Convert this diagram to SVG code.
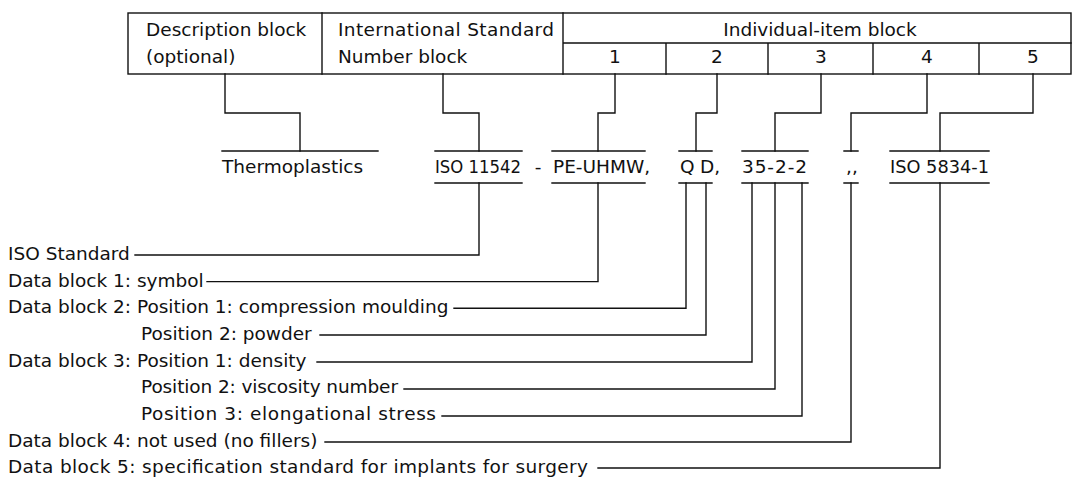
<svg xmlns="http://www.w3.org/2000/svg" width="1073" height="477" viewBox="0 0 1073 477">
<style>
.ln{fill:none;stroke:#111;stroke-width:1.4;stroke-linecap:square}
text{font-family:"DejaVu Sans","Liberation Sans",sans-serif;font-size:18.5px;fill:#111}
.m{text-anchor:middle}
</style>
<rect width="1073" height="477" fill="#fff"/>
<g id="table">
<rect class="ln" x="128" y="13" width="943" height="61"/>
<path class="ln" d="M322 13V74M563 13V74M563 43H1071M666 43V74M768 43V74M873 43V74M979 43V74"/>
<text x="146" y="36">Description block</text>
<text x="146" y="63">(optional)</text>
<text x="338" y="36" textLength="216" lengthAdjust="spacing">International Standard</text>
<text x="338" y="63">Number block</text>
<text class="m" x="820" y="36">Individual-item block</text>
<text class="m" x="615" y="63">1</text>
<text class="m" x="717" y="63">2</text>
<text class="m" x="821" y="63">3</text>
<text class="m" x="927" y="63">4</text>
<text class="m" x="1033" y="63">5</text>
</g>
<g id="designation">
<path class="ln" d="M222 151H378M435 151H522M435 183H522M552 151H645M552 183H645M679 151H712M679 183H712M742 151H808M742 183H808M844 151H858M844 183H858M890 151H989M890 183H989"/>
<text x="222" y="173">Thermoplastics</text>
<text x="435" y="173" textLength="86" lengthAdjust="spacingAndGlyphs">ISO 11542</text>
<text class="m" x="538" y="173">-</text>
<text x="553" y="173">PE-UHMW,</text>
<text x="680" y="173">Q</text>
<text x="700" y="173">D,</text>
<text x="742" y="173" textLength="65" lengthAdjust="spacing">35-2-2</text>
<text x="846" y="173">,,</text>
<text x="890" y="173" textLength="99" lengthAdjust="spacingAndGlyphs">ISO 5834-1</text>
</g>
<g id="labels">
<text x="8" y="260">ISO Standard</text>
<text x="8" y="286.6">Data block 1: symbol</text>
<text x="8" y="313.3">Data block 2: Position 1: compression moulding</text>
<text x="141" y="340">Position 2: powder</text>
<text x="8" y="366.6">Data block 3: Position 1: density</text>
<text x="141" y="393.3" textLength="257" lengthAdjust="spacing">Position 2: viscosity number</text>
<text x="141" y="420" textLength="295" lengthAdjust="spacing">Position 3: elongational stress</text>
<text x="8" y="446.6">Data block 4: not used (no fillers)</text>
<text x="8" y="473" textLength="580" lengthAdjust="spacing">Data block 5: specification standard for implants for surgery</text>
</g>
<g id="connectors">
<path class="ln" d="M225 74V113H300V151"/>
<path class="ln" d="M443 74V113H479V151"/>
<path class="ln" d="M615 74V113H598V151"/>
<path class="ln" d="M717 74V113H696V151"/>
<path class="ln" d="M821 74V113H775V151"/>
<path class="ln" d="M927 74V113H851V151"/>
<path class="ln" d="M1033 74V113H940V151"/>
<path class="ln" d="M479 183V255H135"/>
<path class="ln" d="M598 183V281.6H207"/>
<path class="ln" d="M686 183V308.3H454"/>
<path class="ln" d="M706 183V335H320"/>
<path class="ln" d="M752 183V362H317"/>
<path class="ln" d="M775 183V389H404"/>
<path class="ln" d="M802 183V416H442"/>
<path class="ln" d="M851 183V442H325"/>
<path class="ln" d="M940 183V468H598"/>
</g>
</svg>
